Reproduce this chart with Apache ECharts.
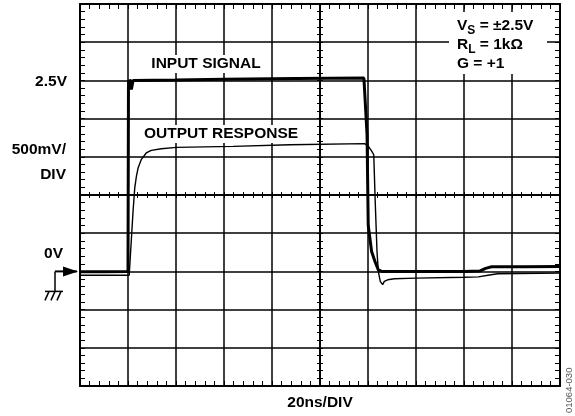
<!doctype html>
<html lang="en">
<head>
<meta charset="utf-8" />
<title>Input / output step response</title>
<script src="https://cdn.jsdelivr.net/npm/echarts@6/dist/echarts.min.js"></script>
<style>
  html, body { margin: 0; padding: 0; background: #fff; }
  #chart { width: 575px; height: 416px; }
</style>
</head>
<body>
<div id="chart"></div>
<script>
const inputTime  = [0, 10, 20.0, 20.2, 21.3, 21.4, 21.9, 22.1, 40, 60, 90, 118.3, 119.6, 120.1, 121.5, 122.9, 124.3, 125.7, 140, 160, 166.5, 169, 171.5, 185, 200];
const inputVolts = [-0.005, -0.005, 0.0, 2.49, 2.5, 2.38, 2.38, 2.5, 2.505, 2.515, 2.525, 2.53, 1.79, 0.6, 0.26, 0.13, 0.02, 0.0, 0.0, 0.0, 0.005, 0.04, 0.06, 0.062, 0.065];

const outputTime  = [0, 10, 20.5, 22.1, 22.8, 23.5, 24.2, 25.5, 27.6, 29.7, 33.9, 40.1, 63.8, 87.5, 118.5, 119.9, 121.6, 122.4, 123, 123.75, 124.3, 125.1, 126.1, 126.8, 128.2, 131, 140, 160, 166, 170, 174, 200];
const outputVolts = [-0.05, -0.05, -0.05, 0.785, 1.09, 1.243, 1.353, 1.462, 1.55, 1.584, 1.606, 1.623, 1.636, 1.658, 1.672, 1.65, 1.57, 1.527, 0.92, 0.26, 0.0, -0.13, -0.174, -0.131, -0.11, -0.096, -0.088, -0.077, -0.072, -0.05, -0.03, -0.022];

const xTicks = { min: 0, max: 200, interval: 20 };
const yTicks = { min: -1.5, max: 3.5, interval: 0.5 };

const FONT = '"Liberation Sans", Arial, sans-serif';
const chart = echarts.init(document.getElementById('chart'), null, { renderer: 'canvas' });

const border = { show: true, onZero: false, lineStyle: { color: '#000', width: 2 } };
const centre = (idx) => ({ show: true, onZero: true, onZeroAxisIndex: idx, lineStyle: { color: '#000', width: 1.5 } });
const tickIn = (len) => ({ show: true, inside: true, length: len, lineStyle: { color: '#000', width: 1 } });
const tickOut = (len) => ({ show: true, inside: false, length: len, lineStyle: { color: '#000', width: 1 } });
const minor = (len) => ({ show: true, splitNumber: 5, length: len, lineStyle: { color: '#000', width: 1 } });

function scopeX(extra) {
  return Object.assign({
    type: 'value', min: xTicks.min, max: xTicks.max, interval: xTicks.interval,
    axisLabel: { show: false }, splitLine: { show: false }
  }, extra);
}
function scopeY(extra) {
  return Object.assign({
    type: 'value', min: yTicks.min, max: yTicks.max, interval: yTicks.interval,
    axisLabel: { show: false }, splitLine: { show: false }
  }, extra);
}

chart.setOption({
  animation: false,
  backgroundColor: '#fff',
  grid: { left: 80, top: 4, width: 480, height: 382, containLabel: false, outerBoundsMode: 'none' },
  xAxis: [
    scopeX({
      position: 'bottom', axisLine: border, axisTick: tickIn(5), minorTick: minor(5),
      splitLine: { show: true, lineStyle: { color: '#000', width: 1.5 } },
      name: '20ns/DIV', nameLocation: 'middle', nameGap: 9,
      nameTextStyle: { fontFamily: FONT, fontWeight: 'bold', fontSize: 15.5, color: '#000', verticalAlign: 'top' }
    }),
    scopeX({ position: 'top', axisLine: border, axisTick: tickIn(5), minorTick: minor(5) }),
    // centre graticule line, ticks on both sides
    scopeX({ position: 'bottom', axisLine: centre(2), axisTick: tickIn(3), minorTick: minor(3) }),
    scopeX({ position: 'bottom', axisLine: centre(2), axisTick: tickOut(3), minorTick: minor(3) }),
    { type: 'value', min: -1, max: 1, show: false }
  ],
  yAxis: [
    scopeY({
      position: 'left', axisLine: border, axisTick: tickIn(5), minorTick: minor(5),
      splitLine: { show: true, lineStyle: { color: '#000', width: 1.5 } }
    }),
    scopeY({ position: 'right', axisLine: border, axisTick: tickIn(5), minorTick: minor(5) }),
    { type: 'value', min: -1, max: 1, show: false },
    scopeY({ position: 'left', axisLine: centre(4), axisTick: tickIn(3), minorTick: minor(3) }),
    scopeY({ position: 'left', axisLine: centre(4), axisTick: tickOut(3), minorTick: minor(3) })
  ],
  series: [
    {
      name: 'INPUT SIGNAL', type: 'line', xAxisIndex: 0, yAxisIndex: 0,
      showSymbol: false, symbol: 'none', z: 5,
      lineStyle: { color: '#000', width: 3 },
      data: inputTime.map((t, i) => [t, inputVolts[i]])
    },
    {
      name: 'OUTPUT RESPONSE', type: 'line', xAxisIndex: 0, yAxisIndex: 0,
      showSymbol: false, symbol: 'none', z: 6,
      lineStyle: { color: '#000', width: 1.4 },
      data: outputTime.map((t, i) => [t, outputVolts[i]])
    }
  ]
});

// labels and the ground marker, placed through the axes
const x0 = chart.convertToPixel({ xAxisIndex: 0 }, 0);
const y0 = chart.convertToPixel({ yAxisIndex: 0 }, 0);
const y25 = chart.convertToPixel({ yAxisIndex: 0 }, 2.5);
const bold = { fontFamily: FONT, fontWeight: 'bold', fontSize: 15.5, fill: '#000' };
const txt = (x, y, text, align, extra) => ({
  type: 'text', x: x, y: y, z: 100,
  style: Object.assign({}, bold, { text: text, align: align || 'left', verticalAlign: 'middle' }, extra || {})
});
const stroke = { stroke: '#000', lineWidth: 1.5 };

chart.setOption({
  graphic: [
    txt(x0 - 13, y25 + 1, '2.5V', 'right'),
    txt(x0 - 14, 150, '500mV/', 'right'),
    txt(x0 - 14, 175, 'DIV', 'right'),
    txt(x0 - 17, y0 - 18, '0V', 'right'),
    // arrow + ground symbol
    { type: 'line', z: 100, shape: { x1: x0 - 25, y1: y0, x2: x0 - 3, y2: y0 }, style: { stroke: '#000', lineWidth: 2 } },
    { type: 'polygon', z: 100, shape: { points: [[x0 - 17, y0 - 5], [x0 - 2, y0], [x0 - 17, y0 + 5]] }, style: { fill: '#000' } },
    { type: 'line', z: 100, shape: { x1: x0 - 25, y1: y0, x2: x0 - 25, y2: y0 + 20 }, style: stroke },
    { type: 'line', z: 100, shape: { x1: x0 - 35, y1: y0 + 20, x2: x0 - 17, y2: y0 + 20 }, style: stroke },
    { type: 'line', z: 100, shape: { x1: x0 - 31, y1: y0 + 20, x2: x0 - 35, y2: y0 + 29 }, style: stroke },
    { type: 'line', z: 100, shape: { x1: x0 - 25, y1: y0 + 20, x2: x0 - 29, y2: y0 + 29 }, style: stroke },
    { type: 'line', z: 100, shape: { x1: x0 - 19, y1: y0 + 20, x2: x0 - 23, y2: y0 + 29 }, style: stroke },
    // trace labels with white backing
    txt(206, 64, 'INPUT SIGNAL', 'center', { backgroundColor: '#fff', padding: [1, 2] }),
    txt(221, 134, 'OUTPUT RESPONSE', 'center', { backgroundColor: '#fff', padding: [1, 2] }),
    // conditions box
    { type: 'rect', z: 90, shape: { x: 449, y: 12, width: 98, height: 62 }, style: { fill: '#fff' } },
    {
      type: 'text', x: 457, y: 18, z: 100,
      style: {
        text: '{n|V}{s|S}{n| = ±2.5V}\n{n|R}{s|L}{n| = 1kΩ}\n{n|G = +1}',
        rich: {
          n: { fontFamily: FONT, fontWeight: 'bold', fontSize: 15.5, lineHeight: 19, fill: '#000', verticalAlign: 'top' },
          s: { fontFamily: FONT, fontWeight: 'bold', fontSize: 12, lineHeight: 19, fill: '#000', verticalAlign: 'top', padding: [7, 0, 0, 0] }
        }
      }
    },
    // figure id
    {
      type: 'text', x: 569, y: 413, rotation: Math.PI / 2, z: 100,
      style: { text: '01064-030', fontFamily: FONT, fontSize: 9.5, fill: '#555', align: 'left', verticalAlign: 'middle' }
    }
  ]
});
</script>
</body>
</html>
